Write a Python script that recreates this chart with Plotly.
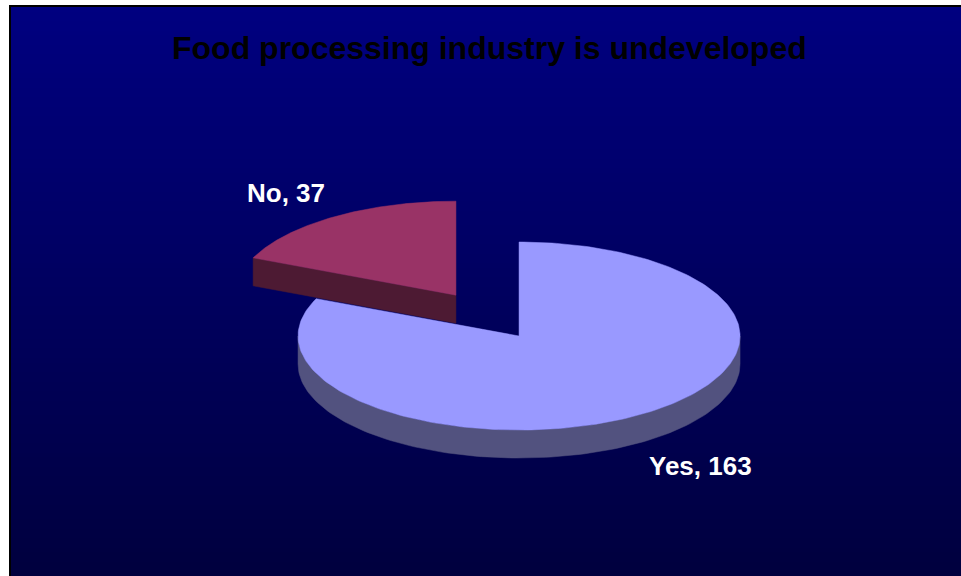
import numpy as np
import plotly.graph_objects as go

# ---- data ----
labels = ["Yes", "No"]
values = [163, 37]
title_text = "Food processing industry is undeveloped"

# ---- style ----
top_colors = ["#9999FF", "#993366"]
side_colors = ["#52527F", "#4D1A33"]
W, H = 961, 576
A, B, DEPTH = 221.0, 94.0, 28.0          # ellipse semi-axes and thickness (px)
CX, CY = 487.5, 315.6                    # pie centre (px)
PULL = 0.26                              # explode fraction
LBL_FX, LBL_FY, LBL_DX = 1.45, 1.30, 6.0

fig = go.Figure()

# background gradient (navy -> dark navy)
N = 120
yedges = np.linspace(7, H, N + 1)
zbg = [[1.0 - (i + 0.5) / N] for i in range(N)]
fig.add_trace(go.Heatmap(
    x=[11, W], y=yedges, z=zbg, zmin=0, zmax=1,
    colorscale=[[0, "#00003E"], [1, "#000080"]],
    showscale=False, hoverinfo="skip", zsmooth=False,
))


def pt(cx, cy, th, dz=0.0):
    r = np.radians(th)
    return cx + A * np.sin(r), cy - B * np.cos(r) + dz


total = float(sum(values))
slices = []
start = 0.0
for lab, v, ct, cs in zip(labels, values, top_colors, side_colors):
    t0 = start / total * 360.0
    t1 = (start + v) / total * 360.0
    mid = (t0 + t1) / 2.0
    mr = np.radians(mid)
    cx = CX + PULL * A * np.sin(mr)
    cy = CY - PULL * B * np.cos(mr)
    slices.append(dict(lab=lab, v=v, t0=t0, t1=t1, mid=mid, cx=cx, cy=cy, ct=ct, cs=cs))
    start += v

# paint back slices first
order = sorted(slices, key=lambda s: s["cy"])


def poly(xs, ys, color):
    fig.add_trace(go.Scatter(
        x=list(xs) + [xs[0]], y=list(ys) + [ys[0]], mode="lines",
        fill="toself", fillcolor=color, line=dict(width=0.5, color=color),
        hoverinfo="skip", showlegend=False,
    ))


for s in order:
    cx, cy, t0, t1 = s["cx"], s["cy"], s["t0"], s["t1"]
    # radial faces
    for th, visible in ((t0, np.sin(np.radians(t0)) < -1e-6),
                        (t1, np.sin(np.radians(t1)) > 1e-6)):
        if visible:
            ex, ey = pt(cx, cy, th)
            poly([cx, ex, ex, cx], [cy, ey, ey + DEPTH, cy + DEPTH], s["cs"])
    # outer rim (front half)
    lo, hi = max(t0, 90.0), min(t1, 270.0)
    if hi > lo:
        th = np.linspace(lo, hi, 120)
        xs, ys = pt(cx, cy, th)
        poly(np.concatenate([xs, xs[::-1]]),
             np.concatenate([ys, ys[::-1] + DEPTH]), s["cs"])
    # top face
    th = np.linspace(t0, t1, 240)
    xs, ys = pt(cx, cy, th)
    poly(np.concatenate([[cx], xs]), np.concatenate([[cy], ys]), s["ct"])

# labels
annotations = []
for s in slices:
    mr = np.radians(s["mid"])
    lx = s["cx"] + LBL_FX * A * np.sin(mr) + LBL_DX
    dy = -LBL_FY * B * np.cos(mr)
    ly = s["cy"] + dy + (DEPTH if dy > 0 else 0)
    annotations.append(dict(
        x=lx, y=ly, xref="x", yref="y", text=f"<b>{s['lab']}, {s['v']}</b>",
        showarrow=False, font=dict(family="Liberation Sans", size=26, color="white"),
        xanchor="center", yanchor="middle",
    ))

annotations.append(dict(
    x=489, y=48, xref="x", yref="y", text=f"<b>{title_text}</b>", showarrow=False,
    font=dict(family="Liberation Sans", size=32, color="black"),
    xanchor="center", yanchor="middle",
))

shapes = [
    dict(type="line", xref="x", yref="y", x0=10, x1=10, y0=5, y1=H,
         line=dict(color="black", width=2)),
    dict(type="line", xref="x", yref="y", x0=9, x1=W, y0=6, y1=6,
         line=dict(color="black", width=2)),
]

fig.update_layout(
    width=W, height=H, margin=dict(l=0, r=0, t=0, b=0),
    paper_bgcolor="white", plot_bgcolor="white",
    xaxis=dict(range=[0, W], visible=False, fixedrange=True),
    yaxis=dict(range=[H, 0], visible=False, fixedrange=True),
    annotations=annotations, shapes=shapes, showlegend=False,
)

fig.write_html("out.html")
